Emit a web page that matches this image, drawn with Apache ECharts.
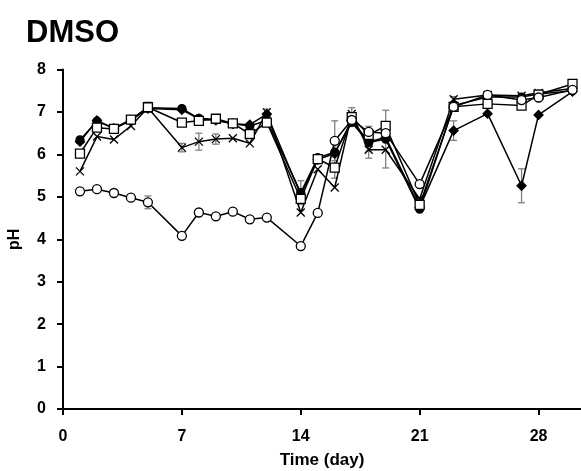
<!DOCTYPE html>
<html><head><meta charset="utf-8">
<script src="https://cdn.jsdelivr.net/npm/echarts@6/dist/echarts.min.js"></script>
<style>html,body{margin:0;padding:0;background:#fff}#c{width:581px;height:471px}</style>
</head><body><div id="c"></div>
<script>
const days = [1,2,3,4,5,7,8,9,10,11,12,14,15,16,17,18,19,21,23,25,27,28,30];
const filledCircle = [6.34,6.78,6.62,6.82,7.10,7.08,6.85,6.82,6.72,6.67,6.80,5.10,5.92,6.05,6.75,6.28,6.36,4.71,7.15,7.35,7.35,7.42,7.50];
const filledDiamond = [6.30,6.80,6.60,6.80,7.08,7.05,6.84,6.80,6.72,6.70,6.95,5.05,5.88,6.02,6.80,6.30,6.40,4.75,6.56,6.96,5.26,6.93,7.48];
const openSquare = [6.02,6.63,6.60,6.82,7.11,6.75,6.79,6.84,6.73,6.48,6.75,4.95,5.89,5.69,6.88,6.46,6.67,4.81,7.12,7.19,7.15,7.41,7.66];
const crossMark = [5.60,6.42,6.35,6.67,7.10,6.16,6.30,6.36,6.38,6.26,6.99,4.63,5.65,5.22,6.95,6.11,6.11,4.95,7.30,7.40,7.38,7.45,7.55];
const openCircle = [5.13,5.18,5.09,4.98,4.87,4.08,4.63,4.54,4.65,4.47,4.51,3.84,4.62,6.32,6.81,6.53,6.50,5.30,7.12,7.40,7.28,7.34,7.52];

const errFilledCircle = [0.08,0,0,0,0,0,0,0,0,0,0,0.28,0,0.05,0,0.2,0.68,0,0,0,0,0,0];
const errFilledDiamond = [0,0,0,0,0,0,0,0,0,0,0,0,0,0,0,0,0,0,0.23,0,0.4,0,0];
const errOpenSquare = [0,0,0.08,0,0.12,0,0,0,0.08,0,0,0.05,0.08,0.25,0,0.2,0,0.15,0,0,0,0,0.05];
const errCross = [0,0,0,0,0,0.1,0.2,0.12,0,0,0.08,0,0,0,0.15,0.2,0,0,0.06,0,0.05,0,0];
const errOpenCircle = [0,0,0,0,0.15,0,0,0,0,0,0,0,0,0.47,0.1,0,0,0,0,0,0,0,0];

const xTicks = [0,7,14,21,28];
const FONT = 'Liberation Sans, Arial, sans-serif';

function pairs(vals){ return days.map((d,i)=>[d, vals[i]]); }
function errData(vals, errs){
  const out=[];
  days.forEach((d,i)=>{ if(errs[i]>0) out.push([d, vals[i]-errs[i], vals[i]+errs[i]]); });
  return out;
}
function errSeries(vals, errs){
  return {
    type:'custom', data: errData(vals, errs), z: 1, silent:true,
    renderItem: function(params, api){
      const x = api.value(0);
      const lo = api.coord([x, api.value(1)]);
      const hi = api.coord([x, api.value(2)]);
      const w = 3.5;
      const st = {stroke:'#7f7f7f', lineWidth:1.3};
      return {type:'group', children:[
        {type:'line', shape:{x1:lo[0],y1:lo[1],x2:hi[0],y2:hi[1]}, style:st},
        {type:'line', shape:{x1:lo[0]-w,y1:lo[1],x2:lo[0]+w,y2:lo[1]}, style:st},
        {type:'line', shape:{x1:hi[0]-w,y1:hi[1],x2:hi[0]+w,y2:hi[1]}, style:st}
      ]};
    }
  };
}
function lineSeries(vals, symbol, size, fill, z){
  return {
    type:'line', data: pairs(vals), symbol: symbol, symbolSize: size, z: z,
    showAllSymbol: true,
    lineStyle:{color:'#000', width:1.5},
    itemStyle:{color: fill, borderColor:'#000', borderWidth:1.3, opacity:1},
    emphasis:{disabled:true}, animation:false
  };
}

const chart = echarts.init(document.getElementById('c'), null, {renderer:'canvas'});
chart.setOption({
  animation:false,
  title:{text:'DMSO', left:21, top:13, textStyle:{fontFamily:FONT, fontSize:31, fontWeight:'bold', color:'#000'}},
  grid:{left:63, right:0, top:69.5, bottom:62, containLabel:false, outerBoundsMode:'none'},
  xAxis:{
    type:'value', min:0, max:30.5, interval:7,
    name:'Time (day)', nameLocation:'middle', nameGap:43,
    nameTextStyle:{fontFamily:FONT, fontSize:17, fontWeight:'bold', color:'#000'},
    axisLine:{show:true, lineStyle:{color:'#000', width:2}},
    axisTick:{show:true, inside:false, length:6, lineStyle:{color:'#000', width:2}},
    axisLabel:{fontFamily:FONT, fontSize:16, fontWeight:'bold', color:'#000', margin:20,
      formatter: v => xTicks.indexOf(v)>=0 ? String(v) : '' , showMaxLabel:false},
    splitLine:{show:false}
  },
  yAxis:{
    type:'value', min:0, max:8, interval:1,
    name:'pH', nameLocation:'middle', nameGap:40, nameRotate:90,
    nameTextStyle:{fontFamily:FONT, fontSize:16, fontWeight:'bold', color:'#000'},
    axisLine:{show:true, lineStyle:{color:'#000', width:2}},
    axisTick:{show:true, inside:false, length:6, lineStyle:{color:'#000', width:2}},
    axisLabel:{fontFamily:FONT, fontSize:16, fontWeight:'bold', color:'#000', margin:17},
    splitLine:{show:false}
  },
  series:[
    errSeries(filledCircle, errFilledCircle),
    errSeries(filledDiamond, errFilledDiamond),
    errSeries(openSquare, errOpenSquare),
    errSeries(crossMark, errCross),
    errSeries(openCircle, errOpenCircle),
    lineSeries(filledDiamond, 'diamond', 9, '#000', 2),
    lineSeries(filledCircle, 'circle', 8, '#000', 3),
    lineSeries(crossMark, 'path://M0,0L10,10M10,0L0,10', 8, 'none', 4),
    lineSeries(openSquare, 'rect', 9, '#fff', 5),
    lineSeries(openCircle, 'circle', 9, '#fff', 6)
  ]
});
</script>
</body></html>
